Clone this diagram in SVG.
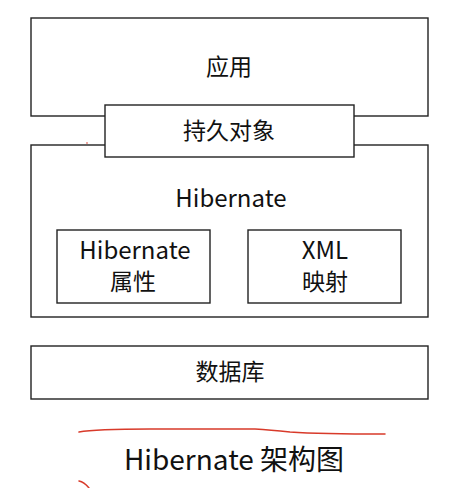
<svg xmlns="http://www.w3.org/2000/svg" width="464" height="488" viewBox="0 0 464 488">
<style>
.box{fill:#fff;stroke:#222;stroke-width:1.4}
text{font-family:"Noto Sans CJK SC","Noto Sans",sans-serif;fill:#111;text-anchor:middle;font-size:23px}
text.en{font-size:24px}
text.title{font-size:28px}
.red{fill:none;stroke:#d83a2a;stroke-width:1.5;stroke-linecap:round}
</style>
<rect width="464" height="488" fill="#fff"/>
<g id="app"><rect class="box" x="31" y="18" width="397" height="98"/><text x="229" y="75">应用</text></g>
<g id="hibernate"><rect class="box" x="31" y="145" width="397" height="172"/><text class="en" x="231" y="207">Hibernate</text></g>
<g id="persist"><rect class="box" x="105" y="105" width="249" height="52"/><text x="229" y="139">持久对象</text></g>
<g id="props"><rect class="box" x="57" y="230" width="153" height="73"/><text class="en" x="135" y="259">Hibernate</text><text x="133" y="290">属性</text></g>
<g id="xml"><rect class="box" x="248" y="230" width="153" height="73"/><text class="en" x="325" y="259">XML</text><text x="325" y="290">映射</text></g>
<g id="db"><rect class="box" x="31" y="346" width="397" height="53"/><text x="230" y="380">数据库</text></g>
<g id="connectors"></g>
<path class="red" d="M79 432 Q95 429 150 429 L255 429 Q270 430 290 432 Q320 434 385 434"/>
<path class="red" d="M79 481 Q84 482 89 488"/>
<circle cx="87" cy="143" r="0.8" fill="#d83a2a"/>
<text class="title" x="234" y="470">Hibernate 架构图</text>
</svg>
